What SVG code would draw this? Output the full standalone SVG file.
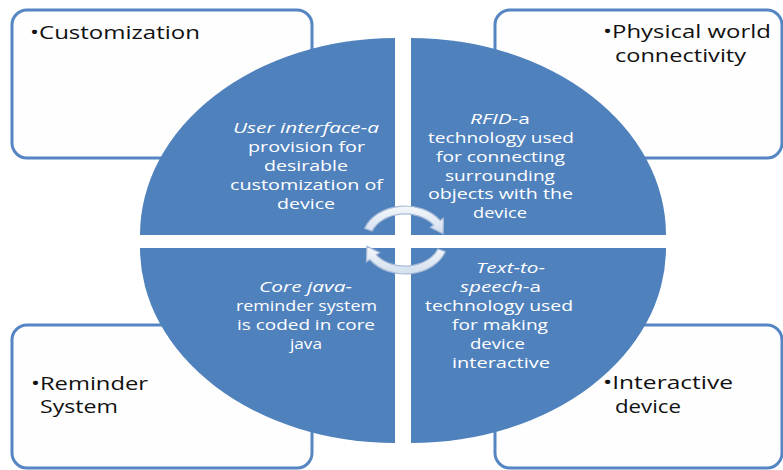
<svg xmlns="http://www.w3.org/2000/svg" width="783" height="470" viewBox="0 0 783 470">
<style>
.box{fill:#fefefe;stroke:#5585c2;stroke-width:3}
.quad{fill:#4f81bd}
.arr{fill:url(#ag);stroke:#a7bbd8;stroke-width:1.2}
.lbl{font-family:"Open Sans","Liberation Sans",sans-serif;font-size:18px;fill:#111}
.in{font-family:"Open Sans","Liberation Sans",sans-serif;font-size:14.5px;fill:#ffffff}
.it{font-style:italic}
</style>
<defs>
<linearGradient id="ag" x1="0" y1="0" x2="0" y2="1">
<stop offset="0" stop-color="#f4f7fb"/>
<stop offset="1" stop-color="#d3dfee"/>
</linearGradient>
</defs>
<rect width="783" height="470" fill="#ffffff"/>

<g id="box-customization">
<rect class="box" x="12" y="10" width="300" height="148" rx="15"/>
<text class="lbl" x="30" y="39" textLength="170" lengthAdjust="spacingAndGlyphs">•Customization</text>
</g>
<g id="box-physical">
<rect class="box" x="495" y="10" width="287" height="148" rx="15"/>
<text class="lbl" x="603" y="38" textLength="168" lengthAdjust="spacingAndGlyphs">•Physical world</text>
<text class="lbl" x="615" y="62" textLength="131" lengthAdjust="spacingAndGlyphs">connectivity</text>
</g>
<g id="box-reminder">
<rect class="box" x="12" y="325" width="300" height="143" rx="15"/>
<text class="lbl" x="31" y="390" textLength="117" lengthAdjust="spacingAndGlyphs">•Reminder</text>
<text class="lbl" x="40" y="413" textLength="78" lengthAdjust="spacingAndGlyphs">System</text>
</g>
<g id="box-interactive">
<rect class="box" x="495" y="325" width="287" height="143" rx="15"/>
<text class="lbl" x="603" y="389" textLength="130" lengthAdjust="spacingAndGlyphs">•Interactive</text>
<text class="lbl" x="615" y="413" textLength="66" lengthAdjust="spacingAndGlyphs">device</text>
</g>

<g id="q-user-interface">
<path class="quad" d="M395,235 L140,235 A255,197 0 0 1 395,38 Z"/>
</g>
<g id="q-rfid">
<path class="quad" d="M411,235 L411,38 A255,197 0 0 1 666,235 Z"/>
</g>
<g id="q-core-java">
<path class="quad" d="M395,248 L395,443 A255,195 0 0 1 140,248 Z"/>
</g>
<g id="q-tts">
<path class="quad" d="M411,248 L666,248 A255,195 0 0 1 411,443 Z"/>
</g>

<g id="connectors">
<path class="arr" d="M364.6,228.4 A43,34 0 0 1 440.2,220.5 L443.5,218.2 L443.1,233.8 L430.4,227.4 L433.7,225.1 A35,26 0 0 0 372.1,231.1 Z"/>
<path class="arr" d="M445.4,251.6 A43,34 0 0 1 369.8,259.5 L366.5,261.8 L366.9,246.2 L379.6,252.6 L376.3,254.9 A35,26 0 0 0 437.9,248.9 Z"/>
</g>

<g id="t-user-interface">
<text class="in it" x="233" y="133" textLength="146" lengthAdjust="spacingAndGlyphs">User interface-a</text>
<text class="in" x="248" y="152" textLength="117" lengthAdjust="spacingAndGlyphs">provision for</text>
<text class="in" x="264" y="171" textLength="84" lengthAdjust="spacingAndGlyphs">desirable</text>
<text class="in" x="230" y="190" textLength="153" lengthAdjust="spacingAndGlyphs">customization of</text>
<text class="in" x="277" y="209" textLength="58" lengthAdjust="spacingAndGlyphs">device</text>
</g>
<g id="t-rfid">
<text class="in" x="470" y="124" textLength="60" lengthAdjust="spacingAndGlyphs"><tspan class="it">RFID</tspan>-a</text>
<text class="in" x="428" y="143" textLength="146" lengthAdjust="spacingAndGlyphs">technology used</text>
<text class="in" x="436" y="162" textLength="129" lengthAdjust="spacingAndGlyphs">for connecting</text>
<text class="in" x="445" y="181" textLength="110" lengthAdjust="spacingAndGlyphs">surrounding</text>
<text class="in" x="428" y="199" textLength="145" lengthAdjust="spacingAndGlyphs">objects with the</text>
<text class="in" x="473" y="218" textLength="54" lengthAdjust="spacingAndGlyphs">device</text>
</g>
<g id="t-core-java">
<text class="in it" x="259" y="292" textLength="93" lengthAdjust="spacingAndGlyphs">Core java-</text>
<text class="in" x="236" y="311" textLength="141" lengthAdjust="spacingAndGlyphs">reminder system</text>
<text class="in" x="237" y="330" textLength="138" lengthAdjust="spacingAndGlyphs">is coded in core</text>
<text class="in" x="290" y="349" textLength="32" lengthAdjust="spacingAndGlyphs">java</text>
</g>
<g id="t-tts">
<text class="in it" x="476" y="273" textLength="69" lengthAdjust="spacingAndGlyphs">Text-to-</text>
<text class="in" x="460" y="292" textLength="81" lengthAdjust="spacingAndGlyphs"><tspan class="it">speech</tspan>-a</text>
<text class="in" x="425" y="311" textLength="148" lengthAdjust="spacingAndGlyphs">technology used</text>
<text class="in" x="452" y="330" textLength="96" lengthAdjust="spacingAndGlyphs">for making</text>
<text class="in" x="470" y="349" textLength="55" lengthAdjust="spacingAndGlyphs">device</text>
<text class="in" x="452" y="368" textLength="98" lengthAdjust="spacingAndGlyphs">interactive</text>
</g>
</svg>
